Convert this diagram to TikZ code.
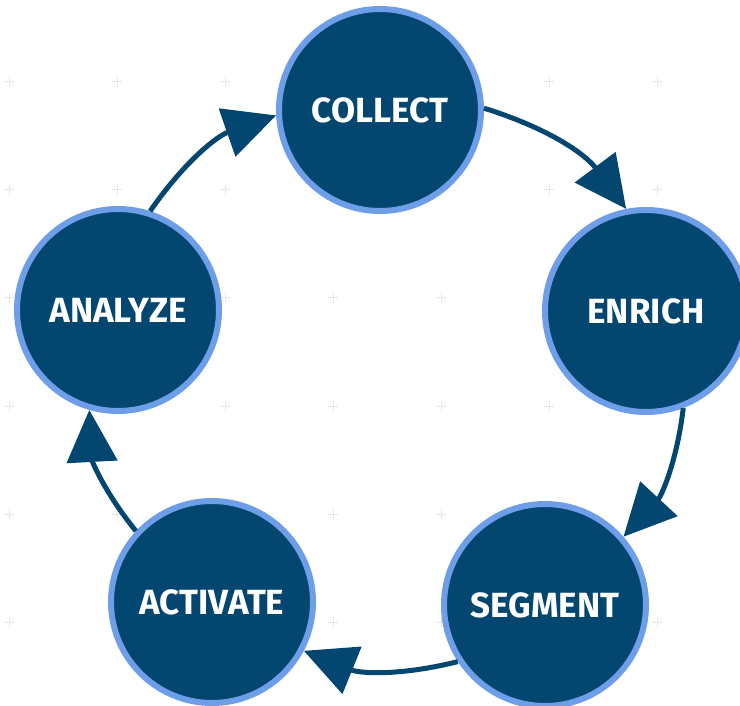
\documentclass[tikz,border=0pt]{standalone}
\usepackage{fontspec}
\setmainfont{Fira Sans}
\usetikzlibrary{arrows.meta,positioning}

\definecolor{navy}{RGB}{3,70,111}
\definecolor{rim}{RGB}{110,158,232}
\definecolor{gridmark}{RGB}{230,230,230}

\tikzset{
  stage/.style={circle, fill=navy, draw=rim, line width=6pt, minimum size=202pt,
    inner sep=0pt, text=white, font=\fontsize{35}{40}\selectfont\bfseries},
  flow/.style={draw=navy, line width=5pt, -{Triangle[length=52pt,width=50pt]}, bend left=18}
}

\begin{document}
\begin{tikzpicture}[x=1pt,y=-1pt]
    \useasboundingbox (0,0) rectangle (740,706);
    \clip (0,0) rectangle (740,706);
    \begin{scope} % Faint crosses in the background
        \foreach \x in {9,117,...,657}
            \foreach \y in {82,190,...,622}
                \draw[gridmark, line width=1pt] (\x-5,\y) -- ++(10,0) (\x,\y-5) -- ++(0,10);
    \end{scope}
    \begin{scope} % Stages of the cycle
        \node[stage] (collect)  at (380,110) {COLLECT};
        \node[stage] (enrich)   at (646,311) {ENRICH};
        \node[stage] (segment)  at (545,605) {SEGMENT};
        \node[stage] (activate) at (212,602) {ACTIVATE};
        \node[stage] (analyze)  at (118,310) {ANALYZE};
    \end{scope}
    \begin{scope} % Arrows going round clockwise
        \draw[flow] (collect.1) to (enrich.101);
        \draw[flow] (enrich.-69) to (segment.41);
        \draw[flow] (segment.213) to (activate.-28);
        \draw[flow] (activate.137) to (analyze.254);
        \draw[flow] (analyze.72) to (collect.183);
    \end{scope}
\end{tikzpicture}
\end{document}
